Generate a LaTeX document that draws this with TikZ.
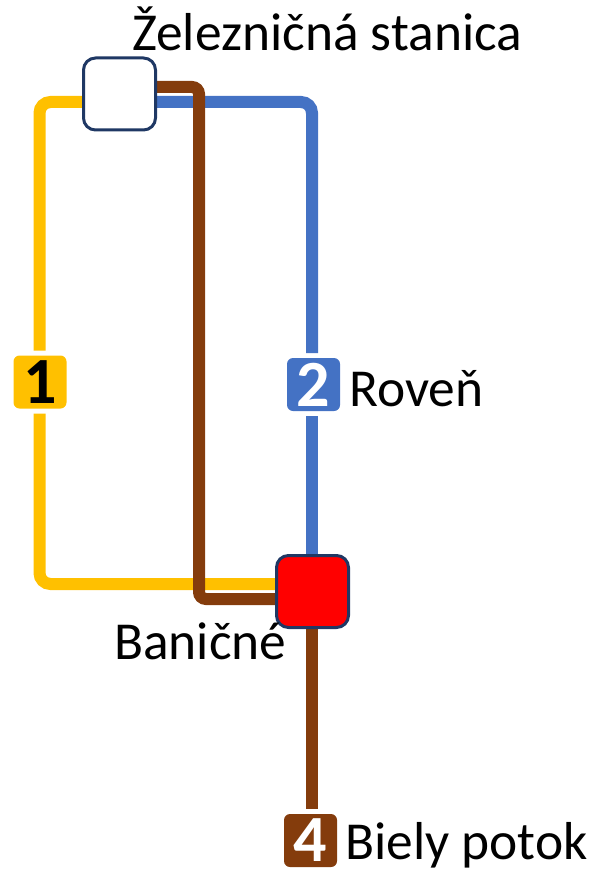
\documentclass[tikz,border=0pt]{standalone}
\usepackage{fontspec}
\setmainfont{Carlito}
\usetikzlibrary{backgrounds,calc}
\definecolor{lyellow}{HTML}{FFC000}
\definecolor{lblue}{HTML}{4472C4}
\definecolor{lbrown}{HTML}{843C0C}
\definecolor{navy}{HTML}{1F3864}
\tikzset{
  x=1pt,y=-1pt,
  station/.style={draw=navy,line width=3pt,rounded corners=12pt,minimum width=72pt,minimum height=72pt,inner sep=0pt},
  badge/.style={rounded corners=6pt,minimum width=53pt,minimum height=53pt,inner sep=0pt,outer sep=5pt,font=\fontsize{66}{66}\selectfont\bfseries},
  lbl/.style={anchor=base west,inner sep=0pt,font=\fontsize{53.4}{53.4}\selectfont,text=black},
  wideline/.style={line width=12pt,rounded corners=11pt},
  tightline/.style={line width=12pt,rounded corners=7pt},
}
\begin{document}
\begin{tikzpicture}
\useasboundingbox (0,0) rectangle (592,869);
\node[station,fill=white] (w) at (119.5,94) {};
\node[station,fill=red] (r) at (312.5,591.5) {};
\node[badge,fill=lyellow,text=black] (b1) at (40,382) {\raisebox{-2pt}{1}};
\node[badge,fill=lblue,text=white] (b2) at (313.5,384.5) {\raisebox{-2pt}{2}};
\node[badge,fill=lbrown,text=white] (b4) at (310.5,840.5) {\raisebox{-2pt}{4}};
\node[lbl] (t0) at (132,51) {Železničná stanica};
\node[lbl] (t2) at (349,406) {Roveň};
\node[lbl] (t3) at (114,659) {Baničné};
\node[lbl] (t4) at (345,859) {Biely potok};
\coordinate (tl) at (39.5,102);
\coordinate (bl) at (39.5,584);
\coordinate (tr) at (312,102);
\coordinate (bt) at (199,87);
\coordinate (bb) at (199,599);
\begin{scope}[on background layer]
\draw[wideline,lyellow] (w.center|-tl) -- (tl) -- (tl|-b1.north);
\draw[wideline,lyellow] (bl|-b1.south) -- (bl) -- (r.center|-bl);
\draw[wideline,lblue] (w.center|-tr) -- (tr) -- (tr|-b2.north);
\draw[line width=12pt,lblue] (tr|-b2.south) -- (tr|-r.center);
\draw[tightline,lbrown] (w.center|-bt) -- (bt) -- (bb) -- (r.center|-bb);
\draw[line width=12pt,lbrown] (tr|-r.center) -- (tr|-b4.north);
\end{scope}
\end{tikzpicture}
\end{document}
